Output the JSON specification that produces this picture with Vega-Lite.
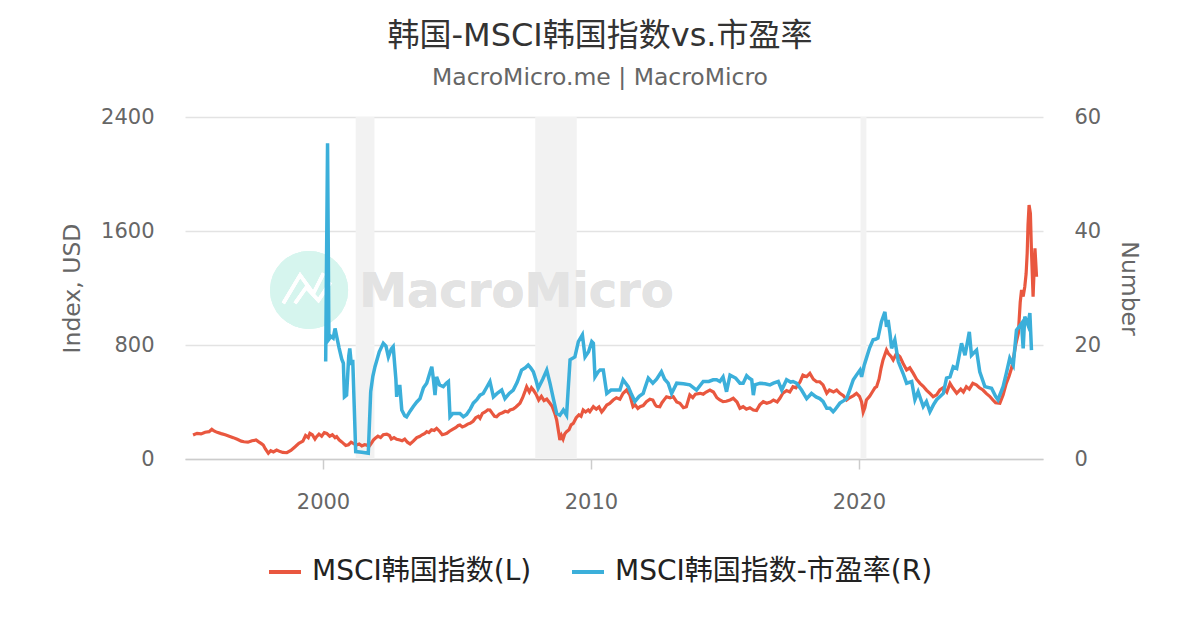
{
  "$schema": "https://vega.github.io/schema/vega-lite/v6.json",
  "width": 858,
  "height": 342,
  "autosize": {"type": "none"},
  "padding": {"left": 185, "top": 117, "right": 157, "bottom": 171},
  "background": "white",
  "title": {
    "text": "韩国-MSCI韩国指数vs.市盈率",
    "subtitle": "MacroMicro.me | MacroMicro",
    "anchor": "middle",
    "dx": -14,
    "offset": 16,
    "subtitlePadding": 13,
    "font": "DejaVu Sans, Noto Sans CJK SC",
    "fontSize": 32,
    "fontWeight": "normal",
    "color": "#333333",
    "subtitleFont": "DejaVu Sans, Noto Sans CJK SC",
    "subtitleFontSize": 23.5,
    "subtitleColor": "#666666"
  },
  "datasets": {
    "bands": [
      {"s": 2001.22, "e": 2001.92},
      {"s": 2007.92, "e": 2009.47},
      {"s": 2020.06, "e": 2020.28}
    ],
    "msci": [
      {"t": 1995.15, "v": 168}, {"t": 1995.3, "v": 180}, {"t": 1995.45, "v": 176}, {"t": 1995.6, "v": 188},
      {"t": 1995.75, "v": 192}, {"t": 1995.85, "v": 208}, {"t": 1995.95, "v": 195}, {"t": 1996.05, "v": 187},
      {"t": 1996.2, "v": 178}, {"t": 1996.35, "v": 170}, {"t": 1996.5, "v": 160}, {"t": 1996.65, "v": 150},
      {"t": 1996.8, "v": 138}, {"t": 1996.95, "v": 125}, {"t": 1997.05, "v": 121}, {"t": 1997.2, "v": 118},
      {"t": 1997.35, "v": 128}, {"t": 1997.5, "v": 133}, {"t": 1997.6, "v": 120}, {"t": 1997.7, "v": 108},
      {"t": 1997.77, "v": 98}, {"t": 1997.85, "v": 70}, {"t": 1997.96, "v": 40}, {"t": 1998.05, "v": 58},
      {"t": 1998.15, "v": 50}, {"t": 1998.27, "v": 63}, {"t": 1998.4, "v": 52}, {"t": 1998.5, "v": 46},
      {"t": 1998.65, "v": 44}, {"t": 1998.8, "v": 60}, {"t": 1998.96, "v": 86}, {"t": 1999.1, "v": 110},
      {"t": 1999.25, "v": 125}, {"t": 1999.35, "v": 165}, {"t": 1999.45, "v": 150}, {"t": 1999.51, "v": 180},
      {"t": 1999.6, "v": 170}, {"t": 1999.7, "v": 140}, {"t": 1999.76, "v": 157}, {"t": 1999.85, "v": 175},
      {"t": 1999.95, "v": 160}, {"t": 2000.05, "v": 185}, {"t": 2000.14, "v": 180}, {"t": 2000.25, "v": 160},
      {"t": 2000.35, "v": 170}, {"t": 2000.45, "v": 150}, {"t": 2000.51, "v": 157}, {"t": 2000.6, "v": 135},
      {"t": 2000.7, "v": 120}, {"t": 2000.76, "v": 110}, {"t": 2000.85, "v": 95}, {"t": 2000.95, "v": 100},
      {"t": 2001.05, "v": 118}, {"t": 2001.13, "v": 110}, {"t": 2001.25, "v": 98}, {"t": 2001.35, "v": 105},
      {"t": 2001.45, "v": 92}, {"t": 2001.55, "v": 100}, {"t": 2001.63, "v": 98}, {"t": 2001.72, "v": 88},
      {"t": 2001.8, "v": 110}, {"t": 2001.88, "v": 133}, {"t": 2001.95, "v": 145}, {"t": 2002.05, "v": 160},
      {"t": 2002.15, "v": 150}, {"t": 2002.25, "v": 170}, {"t": 2002.38, "v": 175}, {"t": 2002.48, "v": 165},
      {"t": 2002.55, "v": 140}, {"t": 2002.65, "v": 150}, {"t": 2002.75, "v": 138}, {"t": 2002.87, "v": 133},
      {"t": 2002.95, "v": 128}, {"t": 2003.05, "v": 140}, {"t": 2003.15, "v": 118}, {"t": 2003.25, "v": 105},
      {"t": 2003.37, "v": 125}, {"t": 2003.5, "v": 150}, {"t": 2003.6, "v": 158}, {"t": 2003.7, "v": 170},
      {"t": 2003.8, "v": 180}, {"t": 2003.87, "v": 192}, {"t": 2003.95, "v": 185}, {"t": 2004.05, "v": 205},
      {"t": 2004.15, "v": 200}, {"t": 2004.24, "v": 215}, {"t": 2004.35, "v": 195}, {"t": 2004.45, "v": 170},
      {"t": 2004.55, "v": 175}, {"t": 2004.62, "v": 180}, {"t": 2004.72, "v": 195}, {"t": 2004.85, "v": 210},
      {"t": 2004.95, "v": 220}, {"t": 2005.05, "v": 235}, {"t": 2005.11, "v": 239}, {"t": 2005.2, "v": 225},
      {"t": 2005.3, "v": 232}, {"t": 2005.4, "v": 245}, {"t": 2005.49, "v": 250}, {"t": 2005.6, "v": 265},
      {"t": 2005.7, "v": 290}, {"t": 2005.8, "v": 300}, {"t": 2005.86, "v": 286}, {"t": 2005.95, "v": 320},
      {"t": 2006.05, "v": 330}, {"t": 2006.15, "v": 345}, {"t": 2006.23, "v": 344}, {"t": 2006.32, "v": 320},
      {"t": 2006.4, "v": 300}, {"t": 2006.48, "v": 297}, {"t": 2006.58, "v": 315}, {"t": 2006.7, "v": 325},
      {"t": 2006.8, "v": 335}, {"t": 2006.9, "v": 330}, {"t": 2006.98, "v": 344}, {"t": 2007.1, "v": 350},
      {"t": 2007.2, "v": 365}, {"t": 2007.35, "v": 391}, {"t": 2007.45, "v": 430}, {"t": 2007.55, "v": 480},
      {"t": 2007.6, "v": 507}, {"t": 2007.7, "v": 470}, {"t": 2007.78, "v": 500}, {"t": 2007.85, "v": 484},
      {"t": 2007.95, "v": 455}, {"t": 2008.05, "v": 414}, {"t": 2008.15, "v": 440}, {"t": 2008.25, "v": 410},
      {"t": 2008.35, "v": 420}, {"t": 2008.47, "v": 391}, {"t": 2008.55, "v": 370}, {"t": 2008.65, "v": 320},
      {"t": 2008.72, "v": 274}, {"t": 2008.8, "v": 180}, {"t": 2008.84, "v": 133}, {"t": 2008.9, "v": 165},
      {"t": 2008.96, "v": 140}, {"t": 2009.02, "v": 175}, {"t": 2009.09, "v": 192}, {"t": 2009.18, "v": 205},
      {"t": 2009.26, "v": 240}, {"t": 2009.34, "v": 250}, {"t": 2009.45, "v": 290}, {"t": 2009.55, "v": 310},
      {"t": 2009.63, "v": 300}, {"t": 2009.71, "v": 344}, {"t": 2009.8, "v": 330}, {"t": 2009.9, "v": 345},
      {"t": 2009.96, "v": 332}, {"t": 2010.09, "v": 367}, {"t": 2010.2, "v": 350}, {"t": 2010.3, "v": 365},
      {"t": 2010.4, "v": 330}, {"t": 2010.46, "v": 344}, {"t": 2010.59, "v": 379}, {"t": 2010.7, "v": 390},
      {"t": 2010.83, "v": 414}, {"t": 2010.95, "v": 430}, {"t": 2011.08, "v": 420}, {"t": 2011.2, "v": 461},
      {"t": 2011.33, "v": 484}, {"t": 2011.45, "v": 450}, {"t": 2011.57, "v": 367}, {"t": 2011.65, "v": 380},
      {"t": 2011.75, "v": 355}, {"t": 2011.83, "v": 367}, {"t": 2011.95, "v": 375}, {"t": 2012.07, "v": 402},
      {"t": 2012.2, "v": 420}, {"t": 2012.31, "v": 414}, {"t": 2012.4, "v": 380}, {"t": 2012.45, "v": 370},
      {"t": 2012.57, "v": 367}, {"t": 2012.65, "v": 395}, {"t": 2012.75, "v": 420}, {"t": 2012.82, "v": 437},
      {"t": 2012.95, "v": 430}, {"t": 2013.07, "v": 437}, {"t": 2013.2, "v": 400}, {"t": 2013.32, "v": 391},
      {"t": 2013.45, "v": 360}, {"t": 2013.56, "v": 367}, {"t": 2013.69, "v": 449}, {"t": 2013.8, "v": 430},
      {"t": 2013.9, "v": 455}, {"t": 2014.07, "v": 461}, {"t": 2014.19, "v": 455}, {"t": 2014.3, "v": 470},
      {"t": 2014.44, "v": 484}, {"t": 2014.57, "v": 470}, {"t": 2014.7, "v": 430}, {"t": 2014.81, "v": 414},
      {"t": 2014.93, "v": 402}, {"t": 2015.05, "v": 405}, {"t": 2015.19, "v": 414}, {"t": 2015.31, "v": 426},
      {"t": 2015.45, "v": 400}, {"t": 2015.56, "v": 356}, {"t": 2015.68, "v": 367}, {"t": 2015.8, "v": 350},
      {"t": 2015.93, "v": 360}, {"t": 2016.06, "v": 344}, {"t": 2016.18, "v": 340}, {"t": 2016.3, "v": 380},
      {"t": 2016.43, "v": 402}, {"t": 2016.56, "v": 391}, {"t": 2016.7, "v": 400}, {"t": 2016.81, "v": 414},
      {"t": 2016.95, "v": 400}, {"t": 2017.05, "v": 426}, {"t": 2017.16, "v": 461}, {"t": 2017.3, "v": 480},
      {"t": 2017.42, "v": 470}, {"t": 2017.54, "v": 507}, {"t": 2017.65, "v": 500}, {"t": 2017.8, "v": 540},
      {"t": 2017.91, "v": 589}, {"t": 2018.05, "v": 578}, {"t": 2018.17, "v": 601}, {"t": 2018.3, "v": 560},
      {"t": 2018.42, "v": 542}, {"t": 2018.54, "v": 542}, {"t": 2018.66, "v": 520}, {"t": 2018.8, "v": 461},
      {"t": 2018.9, "v": 484}, {"t": 2019.05, "v": 470}, {"t": 2019.17, "v": 484}, {"t": 2019.29, "v": 461},
      {"t": 2019.42, "v": 445}, {"t": 2019.54, "v": 414}, {"t": 2019.65, "v": 430}, {"t": 2019.8, "v": 445},
      {"t": 2019.91, "v": 461}, {"t": 2020.02, "v": 440}, {"t": 2020.1, "v": 400}, {"t": 2020.16, "v": 330},
      {"t": 2020.22, "v": 360}, {"t": 2020.28, "v": 414}, {"t": 2020.4, "v": 440}, {"t": 2020.5, "v": 470},
      {"t": 2020.6, "v": 500}, {"t": 2020.66, "v": 507}, {"t": 2020.75, "v": 560}, {"t": 2020.83, "v": 640},
      {"t": 2020.9, "v": 695}, {"t": 2021.03, "v": 765}, {"t": 2021.1, "v": 740}, {"t": 2021.2, "v": 720},
      {"t": 2021.28, "v": 695}, {"t": 2021.4, "v": 740}, {"t": 2021.53, "v": 718}, {"t": 2021.65, "v": 670},
      {"t": 2021.78, "v": 625}, {"t": 2021.9, "v": 640}, {"t": 2022.03, "v": 601}, {"t": 2022.15, "v": 560},
      {"t": 2022.28, "v": 531}, {"t": 2022.4, "v": 510}, {"t": 2022.52, "v": 484}, {"t": 2022.65, "v": 460},
      {"t": 2022.77, "v": 437}, {"t": 2022.9, "v": 450}, {"t": 2023.02, "v": 484}, {"t": 2023.15, "v": 500},
      {"t": 2023.28, "v": 470}, {"t": 2023.4, "v": 531}, {"t": 2023.5, "v": 500}, {"t": 2023.65, "v": 461},
      {"t": 2023.8, "v": 490}, {"t": 2023.9, "v": 470}, {"t": 2024.01, "v": 507}, {"t": 2024.12, "v": 490},
      {"t": 2024.25, "v": 531}, {"t": 2024.38, "v": 520}, {"t": 2024.5, "v": 500}, {"t": 2024.63, "v": 484},
      {"t": 2024.75, "v": 460}, {"t": 2024.88, "v": 440}, {"t": 2025.0, "v": 414}, {"t": 2025.1, "v": 395},
      {"t": 2025.26, "v": 391}, {"t": 2025.38, "v": 450}, {"t": 2025.5, "v": 531}, {"t": 2025.6, "v": 580},
      {"t": 2025.7, "v": 640}, {"t": 2025.76, "v": 700}, {"t": 2025.85, "v": 800}, {"t": 2025.95, "v": 882},
      {"t": 2026.02, "v": 1100}, {"t": 2026.07, "v": 1186}, {"t": 2026.13, "v": 1140}, {"t": 2026.19, "v": 1209},
      {"t": 2026.24, "v": 1300}, {"t": 2026.28, "v": 1444}, {"t": 2026.31, "v": 1640}, {"t": 2026.35, "v": 1782},
      {"t": 2026.4, "v": 1724}, {"t": 2026.44, "v": 1456}, {"t": 2026.5, "v": 1139}, {"t": 2026.57, "v": 1479},
      {"t": 2026.63, "v": 1279}
    ],
    "pe": [
      {"t": 2000.1, "v": 17.1}, {"t": 2000.17, "v": 55.4}, {"t": 2000.22, "v": 21.0}, {"t": 2000.3, "v": 21.5},
      {"t": 2000.38, "v": 21.2}, {"t": 2000.45, "v": 22.9}, {"t": 2000.51, "v": 21.5}, {"t": 2000.6, "v": 19.5},
      {"t": 2000.7, "v": 17.5}, {"t": 2000.76, "v": 16.8}, {"t": 2000.8, "v": 10.9}, {"t": 2000.88, "v": 11.2},
      {"t": 2000.96, "v": 18.0}, {"t": 2001.0, "v": 19.4}, {"t": 2001.06, "v": 16.5}, {"t": 2001.11, "v": 17.4},
      {"t": 2001.22, "v": 1.3}, {"t": 2001.45, "v": 1.2}, {"t": 2001.69, "v": 1.0}, {"t": 2001.78, "v": 11.8},
      {"t": 2001.86, "v": 14.5}, {"t": 2001.94, "v": 16.2}, {"t": 2002.1, "v": 18.8}, {"t": 2002.25, "v": 20.3},
      {"t": 2002.35, "v": 19.8}, {"t": 2002.44, "v": 17.9}, {"t": 2002.55, "v": 19.3}, {"t": 2002.62, "v": 19.7},
      {"t": 2002.72, "v": 14.0}, {"t": 2002.75, "v": 10.9}, {"t": 2002.8, "v": 12.7}, {"t": 2002.87, "v": 12.7},
      {"t": 2002.94, "v": 8.6}, {"t": 2003.05, "v": 7.6}, {"t": 2003.12, "v": 7.4}, {"t": 2003.25, "v": 8.4},
      {"t": 2003.37, "v": 9.2}, {"t": 2003.5, "v": 10.0}, {"t": 2003.62, "v": 10.6}, {"t": 2003.75, "v": 12.5},
      {"t": 2003.87, "v": 13.3}, {"t": 2004.0, "v": 15.3}, {"t": 2004.06, "v": 16.2}, {"t": 2004.12, "v": 14.0},
      {"t": 2004.18, "v": 11.2}, {"t": 2004.24, "v": 14.4}, {"t": 2004.35, "v": 13.0}, {"t": 2004.49, "v": 12.7},
      {"t": 2004.6, "v": 13.3}, {"t": 2004.68, "v": 13.6}, {"t": 2004.74, "v": 7.4}, {"t": 2004.85, "v": 8.0},
      {"t": 2004.99, "v": 8.0}, {"t": 2005.11, "v": 8.0}, {"t": 2005.24, "v": 7.4}, {"t": 2005.36, "v": 7.8},
      {"t": 2005.5, "v": 8.8}, {"t": 2005.61, "v": 9.8}, {"t": 2005.74, "v": 10.4}, {"t": 2005.86, "v": 11.2},
      {"t": 2005.98, "v": 11.5}, {"t": 2006.1, "v": 12.5}, {"t": 2006.23, "v": 13.6}, {"t": 2006.36, "v": 10.9},
      {"t": 2006.5, "v": 11.5}, {"t": 2006.67, "v": 12.1}, {"t": 2006.79, "v": 10.6}, {"t": 2006.95, "v": 11.5},
      {"t": 2007.1, "v": 12.1}, {"t": 2007.25, "v": 13.5}, {"t": 2007.41, "v": 15.6}, {"t": 2007.55, "v": 16.0},
      {"t": 2007.66, "v": 16.5}, {"t": 2007.75, "v": 16.0}, {"t": 2007.85, "v": 15.3}, {"t": 2007.95, "v": 13.8},
      {"t": 2008.03, "v": 12.4}, {"t": 2008.2, "v": 14.0}, {"t": 2008.35, "v": 15.6}, {"t": 2008.47, "v": 13.3},
      {"t": 2008.6, "v": 10.5}, {"t": 2008.72, "v": 8.0}, {"t": 2008.84, "v": 7.7}, {"t": 2008.97, "v": 8.6},
      {"t": 2009.09, "v": 7.7}, {"t": 2009.22, "v": 17.4}, {"t": 2009.4, "v": 17.9}, {"t": 2009.53, "v": 20.6},
      {"t": 2009.68, "v": 21.8}, {"t": 2009.78, "v": 17.9}, {"t": 2009.91, "v": 18.8}, {"t": 2010.03, "v": 20.6},
      {"t": 2010.09, "v": 20.3}, {"t": 2010.15, "v": 14.4}, {"t": 2010.27, "v": 15.3}, {"t": 2010.34, "v": 15.6},
      {"t": 2010.46, "v": 15.6}, {"t": 2010.59, "v": 11.5}, {"t": 2010.75, "v": 12.1}, {"t": 2010.9, "v": 12.1},
      {"t": 2011.08, "v": 12.1}, {"t": 2011.2, "v": 13.9}, {"t": 2011.39, "v": 12.7}, {"t": 2011.5, "v": 11.5},
      {"t": 2011.64, "v": 10.1}, {"t": 2011.8, "v": 11.0}, {"t": 2011.95, "v": 11.5}, {"t": 2012.01, "v": 12.4},
      {"t": 2012.14, "v": 14.2}, {"t": 2012.31, "v": 13.3}, {"t": 2012.45, "v": 14.0}, {"t": 2012.63, "v": 15.3},
      {"t": 2012.75, "v": 14.0}, {"t": 2012.88, "v": 13.3}, {"t": 2013.01, "v": 11.5}, {"t": 2013.2, "v": 13.3},
      {"t": 2013.45, "v": 13.2}, {"t": 2013.69, "v": 13.0}, {"t": 2013.94, "v": 12.1}, {"t": 2014.19, "v": 13.6},
      {"t": 2014.4, "v": 13.6}, {"t": 2014.56, "v": 13.9}, {"t": 2014.69, "v": 13.9}, {"t": 2014.81, "v": 13.6},
      {"t": 2014.93, "v": 14.4}, {"t": 2015.06, "v": 11.8}, {"t": 2015.19, "v": 14.7}, {"t": 2015.4, "v": 14.2},
      {"t": 2015.56, "v": 13.3}, {"t": 2015.68, "v": 13.3}, {"t": 2015.81, "v": 14.6}, {"t": 2015.9, "v": 14.2},
      {"t": 2016.0, "v": 13.9}, {"t": 2016.06, "v": 11.2}, {"t": 2016.12, "v": 13.0}, {"t": 2016.31, "v": 13.3},
      {"t": 2016.5, "v": 13.2}, {"t": 2016.68, "v": 13.0}, {"t": 2016.81, "v": 13.3}, {"t": 2016.99, "v": 13.6},
      {"t": 2017.12, "v": 12.1}, {"t": 2017.3, "v": 13.9}, {"t": 2017.45, "v": 13.5}, {"t": 2017.54, "v": 13.6},
      {"t": 2017.67, "v": 13.3}, {"t": 2017.86, "v": 12.1}, {"t": 2018.05, "v": 10.6}, {"t": 2018.23, "v": 11.5},
      {"t": 2018.4, "v": 10.9}, {"t": 2018.54, "v": 10.6}, {"t": 2018.66, "v": 10.1}, {"t": 2018.8, "v": 8.9},
      {"t": 2018.92, "v": 8.9}, {"t": 2019.04, "v": 8.3}, {"t": 2019.1, "v": 8.6}, {"t": 2019.29, "v": 9.8},
      {"t": 2019.42, "v": 10.2}, {"t": 2019.54, "v": 10.6}, {"t": 2019.65, "v": 12.0}, {"t": 2019.79, "v": 13.9},
      {"t": 2019.92, "v": 14.8}, {"t": 2020.04, "v": 15.6}, {"t": 2020.1, "v": 14.4}, {"t": 2020.2, "v": 16.5},
      {"t": 2020.28, "v": 17.7}, {"t": 2020.4, "v": 19.5}, {"t": 2020.53, "v": 20.9}, {"t": 2020.62, "v": 21.0},
      {"t": 2020.71, "v": 21.2}, {"t": 2020.84, "v": 24.1}, {"t": 2020.97, "v": 25.8}, {"t": 2021.03, "v": 23.2},
      {"t": 2021.09, "v": 24.4}, {"t": 2021.16, "v": 22.0}, {"t": 2021.22, "v": 19.4}, {"t": 2021.34, "v": 20.9},
      {"t": 2021.47, "v": 17.1}, {"t": 2021.65, "v": 15.0}, {"t": 2021.78, "v": 13.3}, {"t": 2021.97, "v": 13.6},
      {"t": 2022.09, "v": 10.4}, {"t": 2022.21, "v": 11.8}, {"t": 2022.4, "v": 9.2}, {"t": 2022.52, "v": 10.1},
      {"t": 2022.65, "v": 8.3}, {"t": 2022.78, "v": 9.5}, {"t": 2022.9, "v": 10.4}, {"t": 2023.15, "v": 11.5},
      {"t": 2023.27, "v": 14.2}, {"t": 2023.4, "v": 14.4}, {"t": 2023.52, "v": 16.2}, {"t": 2023.65, "v": 15.9},
      {"t": 2023.83, "v": 20.3}, {"t": 2023.96, "v": 18.2}, {"t": 2024.12, "v": 22.3}, {"t": 2024.2, "v": 18.2},
      {"t": 2024.39, "v": 19.1}, {"t": 2024.51, "v": 15.3}, {"t": 2024.7, "v": 12.7}, {"t": 2024.95, "v": 12.4},
      {"t": 2025.1, "v": 11.0}, {"t": 2025.19, "v": 10.4}, {"t": 2025.38, "v": 12.7}, {"t": 2025.5, "v": 15.0},
      {"t": 2025.63, "v": 17.7}, {"t": 2025.76, "v": 16.5}, {"t": 2025.88, "v": 22.6}, {"t": 2026.07, "v": 23.8},
      {"t": 2026.13, "v": 19.4}, {"t": 2026.19, "v": 25.0}, {"t": 2026.31, "v": 23.5}, {"t": 2026.38, "v": 25.6},
      {"t": 2026.44, "v": 19.1}
    ]
  },
  "layer": [
    {
      "layer": [
        {
          "data": {"name": "bands"},
          "mark": {"type": "rect", "color": "#f2f2f2"},
          "encoding": {
            "x": {
              "field": "s", "type": "quantitative",
              "scale": {"domain": [1994.85, 2026.87], "nice": false, "zero": false},
              "axis": {"values": [2000, 2010, 2020], "format": "d", "title": null, "grid": false,
                       "domain": true, "domainColor": "#cccccc", "domainWidth": 1.5,
                       "ticks": true, "tickColor": "#cccccc", "tickWidth": 1.5, "tickSize": 10,
                       "labelPadding": 22}
            },
            "x2": {"field": "e"}
          }
        },
        {
          "data": {"name": "bands"},
          "mark": {"type": "point", "shape": "circle", "filled": true, "color": "#d6f5ee", "opacity": 1, "size": 6084},
          "encoding": {
            "x": {"datum": 1999.48, "type": "quantitative"},
            "y": {"datum": 1186, "type": "quantitative"}
          }
        },
        {
          "data": {"name": "bands"},
          "mark": {"type": "point", "shape": "M-0.66,0.34L-0.23,-0.38L0.11,0.09L0.37,-0.43M-0.36,0.34L-0.07,-0.07L0.24,0.27L0.55,-0.2", "filled": false, "color": "white", "strokeWidth": 3.5, "opacity": 1, "size": 6084},
          "encoding": {
            "x": {"datum": 1999.48, "type": "quantitative"},
            "y": {"datum": 1186, "type": "quantitative"}
          }
        },
        {
          "data": {"name": "bands"},
          "mark": {"type": "text", "text": "MacroMicro", "font": "DejaVu Sans", "fontWeight": "bold", "fontSize": 48, "color": "#e3e3e3", "align": "center", "baseline": "alphabetic"},
          "encoding": {
            "x": {"datum": 2007.22, "type": "quantitative"},
            "y": {"datum": 1069, "type": "quantitative"}
          }
        },
        {
          "data": {"name": "msci"},
          "mark": {"type": "line", "strokeWidth": 3.2, "interpolate": "linear"},
          "encoding": {
            "x": {"field": "t", "type": "quantitative"},
            "y": {
              "field": "v", "type": "quantitative",
              "scale": {"domain": [0, 2400], "nice": false},
              "axis": {"orient": "left", "values": [0, 800, 1600, 2400], "format": "d", "title": "Index, USD",
                       "grid": true, "gridColor": "#e3e3e3", "gridWidth": 1.5,
                       "domain": false, "ticks": false, "labelPadding": 31, "titlePadding": 16}
            },
            "color": {"datum": "MSCI韩国指数(L)"}
          }
        }
      ]
    },
    {
      "data": {"name": "pe"},
      "mark": {"type": "line", "strokeWidth": 3.5, "interpolate": "linear"},
      "encoding": {
        "x": {"field": "t", "type": "quantitative"},
        "y": {
          "field": "v", "type": "quantitative",
          "scale": {"domain": [0, 60], "nice": false},
          "axis": {"orient": "right", "values": [0, 20, 40, 60], "format": "d", "title": "Number",
                   "grid": false, "domain": false, "ticks": false, "labelPadding": 31, "titlePadding": 16}
        },
        "color": {"datum": "MSCI韩国指数-市盈率(R)"}
      }
    }
  ],
  "resolve": {"scale": {"y": "independent"}, "axis": {"y": "independent"}},
  "encoding": {},
  "config": {
    "view": {"stroke": null},
    "font": "DejaVu Sans, Noto Sans CJK SC",
    "axis": {
      "labelFont": "DejaVu Sans, Noto Sans CJK SC",
      "labelFontSize": 21,
      "labelColor": "#666666",
      "titleFont": "DejaVu Sans, Noto Sans CJK SC",
      "titleFontSize": 23.5,
      "titleFontWeight": "normal",
      "titleColor": "#666666"
    },
    "range": {"category": ["#e9573f", "#3bafda"]},
    "legend": {
      "orient": "none",
      "legendX": 82,
      "legendY": 437,
      "direction": "horizontal",
      "title": null,
      "padding": 0,
      "symbolType": "stroke",
      "symbolSize": 1024,
      "symbolStrokeWidth": 4,
      "labelFont": "DejaVu Sans, Noto Sans CJK SC",
      "labelFontSize": 28,
      "labelColor": "#222222",
      "labelLimit": 500,
      "labelOffset": 9,
      "columnPadding": 32
    }
  }
}
